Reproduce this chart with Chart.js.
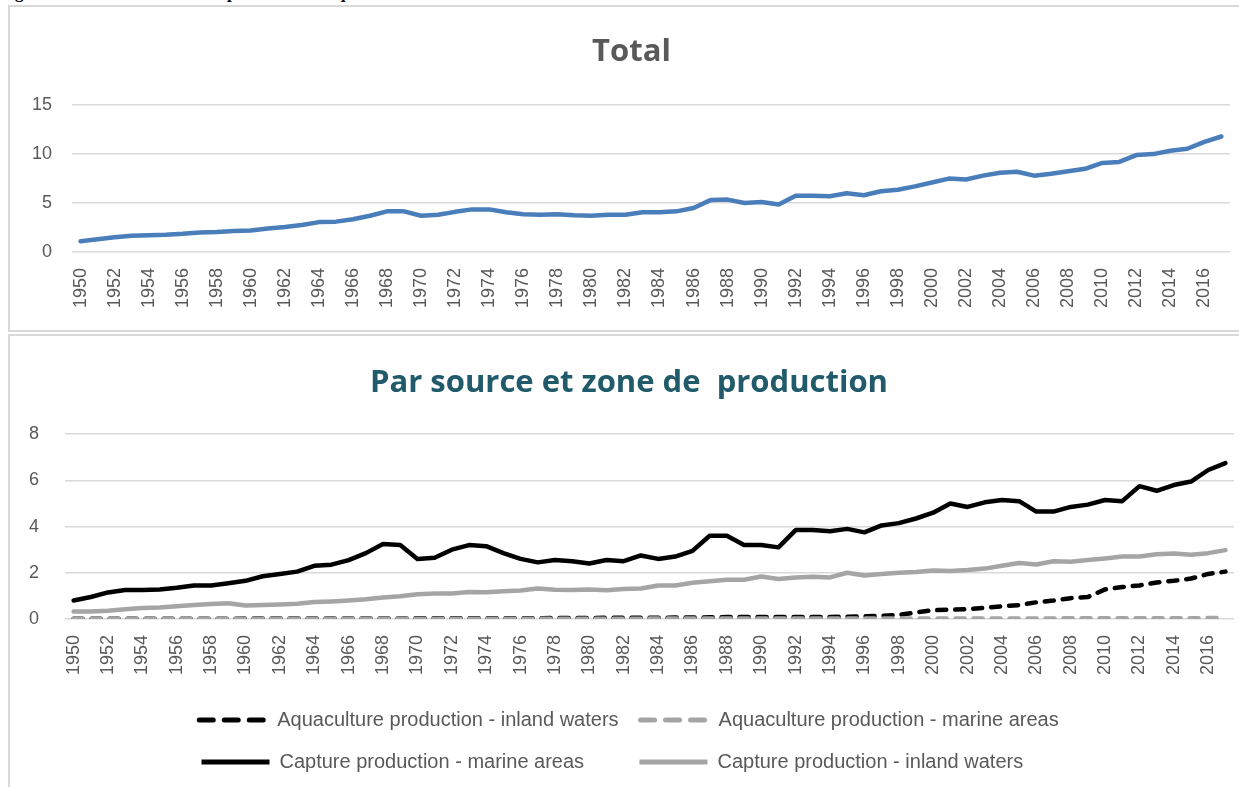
<!DOCTYPE html>
<html>
<head>
<meta charset="utf-8">
<script src="https://cdn.jsdelivr.net/npm/chart.js@4/dist/chart.umd.min.js"></script>
<style>
  body { margin: 0; width: 1239px; height: 787px; overflow: hidden; position: relative; background: #fff; }
  .cap { position: absolute; left: 0; top: -17px; font: bold 17px 'Liberation Serif'; white-space: nowrap; color: #000; }
  .box { position: absolute; border: 2px solid #d9d9d9; box-sizing: border-box; }
  #box1 { left: 8px; top: 5px; width: 1260px; height: 327px; }
  #box2 { left: 8px; top: 334px; width: 1260px; height: 480px; }
  .wrap { position: absolute; }
  #w1 { left: 10px; top: 7px; width: 1241px; height: 323px; }
  #w2 { left: 3px; top: 336px; width: 1252px; height: 451px; }
</style>
</head>
<body>
<div class="cap">Figure 1. Production totale des pêches et de l'aquaculture en millions de tonnes</div>
<div class="box" id="box1"></div>
<div class="box" id="box2"></div>
<div class="wrap" id="w1"><canvas id="chartTotal"></canvas></div>
<div class="wrap" id="w2"><canvas id="chartSource"></canvas></div>
<script>
// années 1950 - 2017
let years = [];
for (let y = 1950; y <= 2017; y++) years.push(String(y));

// production totale (millions de tonnes)
let total = [1.1, 1.3, 1.5, 1.65, 1.7, 1.75, 1.85, 2.0, 2.05, 2.15,
  2.2, 2.4, 2.55, 2.75, 3.05, 3.1, 3.35, 3.7, 4.15, 4.15,
  3.7, 3.8, 4.1, 4.35, 4.35, 4.05, 3.85, 3.8, 3.85, 3.75,
  3.7, 3.8, 3.8, 4.05, 4.05, 4.15, 4.5, 5.3, 5.35, 5.0,
  5.1, 4.85, 5.75, 5.75, 5.7, 6.0, 5.8, 6.2, 6.35, 6.7,
  7.1, 7.5, 7.4, 7.8, 8.1, 8.2, 7.8, 8.0, 8.25, 8.5,
  9.1, 9.2, 9.9, 10.0, 10.35, 10.55, 11.25, 11.8];

let aquaInland = [0.01, 0.01, 0.01, 0.01, 0.01, 0.01, 0.01, 0.01, 0.01, 0.01,
  0.02, 0.02, 0.02, 0.02, 0.02, 0.02, 0.02, 0.02, 0.02, 0.02,
  0.03, 0.03, 0.03, 0.03, 0.03, 0.03, 0.03, 0.03, 0.04, 0.04,
  0.04, 0.05, 0.05, 0.05, 0.05, 0.06, 0.06, 0.07, 0.08, 0.08,
  0.08, 0.08, 0.08, 0.08, 0.09, 0.1, 0.12, 0.13, 0.18, 0.28,
  0.38, 0.4, 0.42, 0.48, 0.55, 0.6, 0.72, 0.8, 0.9, 0.95,
  1.28, 1.38, 1.45, 1.58, 1.65, 1.75, 1.95, 2.05];

let aquaMarine = [0.01, 0.01, 0.01, 0.01, 0.01, 0.01, 0.01, 0.01, 0.01, 0.01,
  0.01, 0.01, 0.01, 0.01, 0.01, 0.01, 0.01, 0.01, 0.01, 0.01,
  0.01, 0.01, 0.01, 0.01, 0.01, 0.01, 0.01, 0.01, 0.01, 0.01,
  0.01, 0.01, 0.01, 0.01, 0.02, 0.02, 0.02, 0.02, 0.02, 0.02,
  0.02, 0.02, 0.02, 0.02, 0.02, 0.02, 0.02, 0.02, 0.02, 0.02,
  0.02, 0.02, 0.02, 0.02, 0.02, 0.02, 0.02, 0.02, 0.03, 0.03,
  0.03, 0.03, 0.03, 0.03, 0.03, 0.03, 0.04, 0.04];

let captureMarine = [0.8, 0.95, 1.15, 1.25, 1.25, 1.28, 1.35, 1.45, 1.45, 1.55,
  1.65, 1.85, 1.95, 2.05, 2.3, 2.35, 2.55, 2.85, 3.25, 3.2,
  2.6, 2.65, 3.0, 3.2, 3.15, 2.85, 2.6, 2.45, 2.55, 2.5,
  2.4, 2.55, 2.5, 2.75, 2.6, 2.7, 2.95, 3.6, 3.6, 3.2,
  3.2, 3.1, 3.85, 3.85, 3.8, 3.9, 3.75, 4.05, 4.15, 4.35,
  4.6, 5.0, 4.85, 5.05, 5.15, 5.1, 4.65, 4.65, 4.85, 4.95,
  5.15, 5.1, 5.75, 5.55, 5.8, 5.95, 6.45, 6.75];

let captureInland = [0.32, 0.32, 0.36, 0.42, 0.47, 0.5, 0.55, 0.6, 0.65, 0.68,
  0.58, 0.6, 0.63, 0.66, 0.73, 0.76, 0.8, 0.85, 0.93, 0.98,
  1.07, 1.1, 1.1, 1.17, 1.16, 1.2, 1.23, 1.32, 1.26, 1.25,
  1.28, 1.24, 1.3, 1.32, 1.45, 1.45, 1.57, 1.63, 1.7, 1.7,
  1.84, 1.73, 1.8, 1.83, 1.8, 2.0, 1.88, 1.95, 2.0, 2.03,
  2.1, 2.08, 2.12, 2.18, 2.3, 2.42, 2.36, 2.5, 2.48, 2.55,
  2.62, 2.7, 2.7, 2.8, 2.83, 2.78, 2.85, 2.98];

let seriesNames = ['Aquaculture production - inland waters', 'Aquaculture production - marine areas',
  'Capture production - marine areas', 'Capture production - inland waters'];

let totalTicks = [0, 5, 10, 15];
let sourceTicks = [0, 2, 4, 6, 8];

const grey = '#595959';
const tickFont = { family: 'Liberation Sans', size: 18 };
const legendFont = { family: 'Liberation Sans', size: 20 };

// un an sur deux sur l'axe des x
function xAxis(extra) {
  return {
    offset: true,
    grid: { display: false },
    border: { display: false },
    afterFit: function (axis) { axis.height += extra; },
    ticks: {
      autoSkip: false, maxRotation: 90, minRotation: 90, padding: 8,
      color: grey, font: tickFont,
      callback: function (value, index) { return index % 2 === 0 ? years[index] : ''; }
    }
  };
}

function yAxis(ticksList, pad) {
  return {
    min: ticksList[0],
    max: ticksList[ticksList.length - 1],
    afterBuildTicks: function (axis) { axis.ticks = ticksList.map(v => ({ value: v })); },
    grid: { color: '#d9d9d9', lineWidth: 1.5, drawTicks: false },
    border: { display: false },
    ticks: { color: grey, font: tickFont, padding: pad }
  };
}

// Graphique du total
new Chart(document.getElementById('chartTotal'), {
  type: 'line',
  data: {
    labels: years,
    datasets: [{
      label: 'Total',
      data: total,
      borderColor: '#4a7ebb',
      borderWidth: 4.5,
      pointRadius: 0,
      tension: 0,
      borderJoinStyle: 'round',
      borderCapStyle: 'round'
    }]
  },
  options: {
    animation: false,
    responsive: true,
    maintainAspectRatio: false,
    layout: { padding: { left: 2, right: 0, bottom: 14 } },
    plugins: {
      legend: { display: false },
      tooltip: { enabled: false },
      title: {
        display: true, text: 'Total', color: grey,
        font: { family: 'Open Sans', size: 31, weight: 'bold' },
        padding: { top: 27, bottom: 34 }
      }
    },
    scales: { x: xAxis(0), y: yAxis(totalTicks, 20) }
  }
});

// légende : textes de même largeur pour aligner les colonnes, tirets repris des séries
function alignedLabels(chart) {
  const items = Chart.defaults.plugins.legend.labels.generateLabels(chart);
  const ctx = chart.ctx;
  ctx.save();
  ctx.font = legendFont.size + 'px "' + legendFont.family + '"';
  const w = Math.max(...items.map(it => ctx.measureText(it.text).width));
  items.forEach(it => {
    const ds = chart.data.datasets[it.datasetIndex];
    it.lineDash = ds.borderDash ? [14, 11] : [];
    it.lineCap = ds.borderDash ? 'round' : 'butt';
    it.lineWidth = 5;
    it.strokeStyle = ds.borderColor;
    while (ctx.measureText(it.text + ' ').width <= w + 2) it.text += ' ';
  });
  ctx.restore();
  return items;
}

// Graphique par source et zone
new Chart(document.getElementById('chartSource'), {
  type: 'line',
  data: {
    labels: years,
    datasets: [
      { label: seriesNames[0], data: aquaInland, borderColor: '#000000', backgroundColor: '#000000',
        borderDash: [9, 9], borderCapStyle: 'round', order: 1 },
      { label: seriesNames[1], data: aquaMarine, borderColor: '#a5a5a5', backgroundColor: '#a5a5a5',
        borderDash: [9, 9], borderCapStyle: 'round', order: 0 },
      { label: seriesNames[2], data: captureMarine, borderColor: '#000000', backgroundColor: '#000000',
        borderCapStyle: 'round', order: 2 },
      { label: seriesNames[3], data: captureInland, borderColor: '#a5a5a5', backgroundColor: '#a5a5a5',
        borderCapStyle: 'round', order: 3 }
    ].map(d => Object.assign({ borderWidth: 4.5, pointRadius: 0, tension: 0, borderJoinStyle: 'round' }, d))
  },
  options: {
    animation: false,
    responsive: true,
    maintainAspectRatio: false,
    layout: { padding: { left: 0, right: 0, bottom: 5 } },
    plugins: {
      tooltip: { enabled: false },
      title: {
        display: true, text: 'Par source et zone de  production', color: '#215a6a',
        font: { family: 'Open Sans', size: 31, weight: 'bold' },
        padding: { top: 29, bottom: 32 }
      },
      legend: {
        position: 'bottom',
        labels: {
          usePointStyle: true, pointStyle: 'line', pointStyleWidth: 68,
          padding: 22, color: grey, font: legendFont,
          generateLabels: alignedLabels,
          sort: (a, b) => a.datasetIndex - b.datasetIndex
        }
      }
    },
    scales: { x: xAxis(5), y: yAxis(sourceTicks, 26) }
  }
});
</script>
</body>
</html>
